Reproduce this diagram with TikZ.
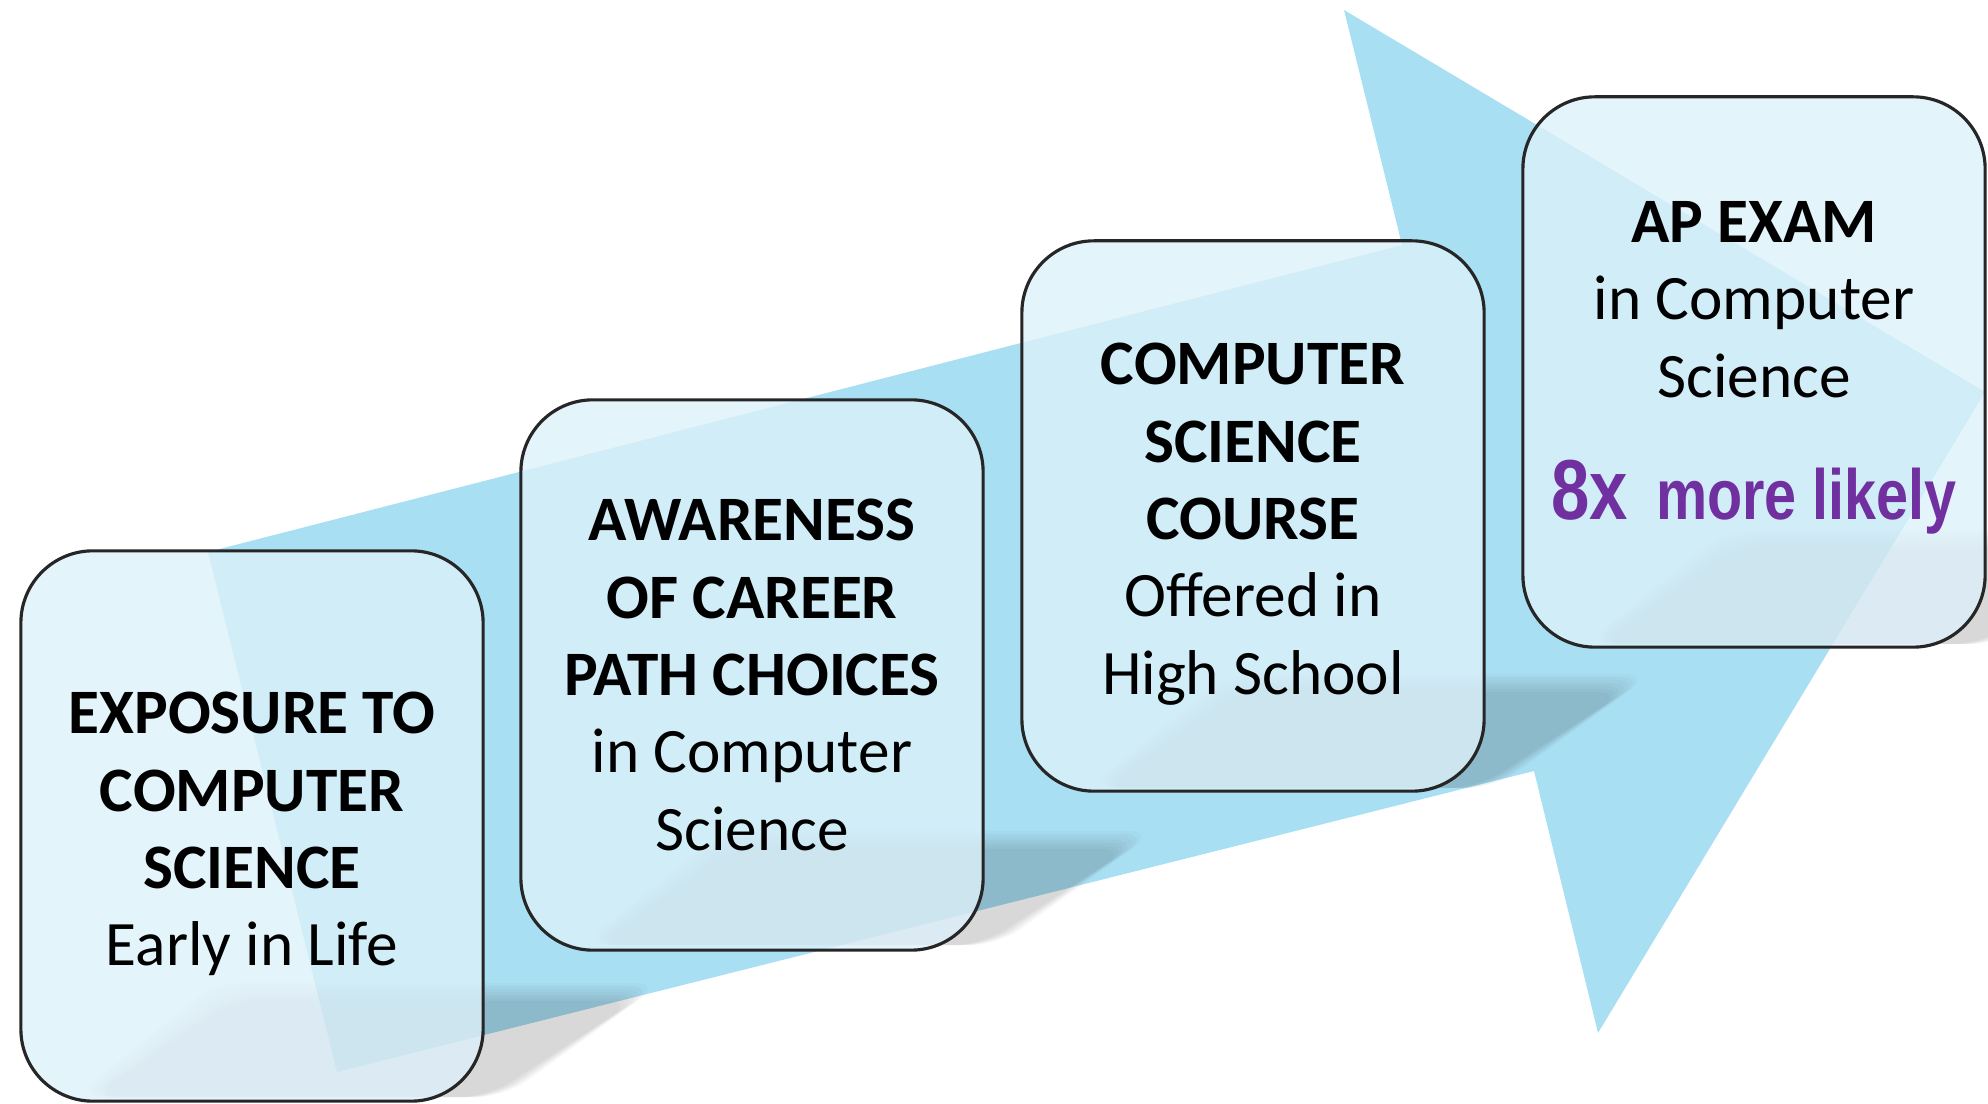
\documentclass[tikz,border=0pt]{standalone}
\usepackage{fontspec}
\usepackage{graphicx}
\setmainfont{Carlito}
\newfontfamily\likelyfont{Liberation Sans}
\usetikzlibrary{calc}
\definecolor{arrowblue}{RGB}{169,223,243}
\definecolor{boxblue}{RGB}{221,241,250}
\definecolor{likelypurple}{RGB}{112,48,160}
\tikzset{
	stage/.style={draw=black!85, line width=0.9pt, fill=boxblue, fill opacity=0.79, text opacity=1,
		rounded corners=0.72cm, minimum width=4.62cm, minimum height=5.5cm, align=center,
		font=\fontsize{18}{22}\selectfont},
}
\def\boxshadow(#1,#2,#3){\foreach \s in {0,3,...,18} {\fill[black, opacity=0.024, rounded corners=8pt] (#1+200+\s, #3-118+\s) -- (#2+172-1.5*\s, #3-118+\s) -- (#2+15-\s, #3-4) -- (#1+60+\s, #3-4) -- cycle;}}
\def\pushdown{\rule{0pt}{0.58cm}}

\begin{document}
\begin{tikzpicture}[x=0.01cm, y=-0.01cm]
			%%%%% START %%%%%
			\useasboundingbox (0, 0) rectangle (1988, 1104);
			
			% the big arrow behind
			\fill[arrowblue] (208, 552) -- (1402, 245) -- (1344, 10) -- (1985, 392) -- (1598, 1033) -- (1534, 771) -- (337, 1072) -- cycle;
			
			% shadows of the boxes
			\boxshadow(15,490,1101);
			\boxshadow(521,984,949);
			\boxshadow(1027,1480,792);
			\boxshadow(1524,1984,648);
			
			% the four steps
			\node[stage] (early) at (252, 826) {\pushdown\textbf{EXPOSURE TO}\\ \textbf{COMPUTER}\\ \textbf{SCIENCE}\\ Early in Life};
			\node[stage] (career) at (752, 675) {\textbf{AWARENESS}\\ \textbf{OF CAREER}\\ \textbf{PATH CHOICES}\\ in Computer\\ Science};
			\node[stage] (course) at (1253, 516) {\pushdown\textbf{COMPUTER}\\ \textbf{SCIENCE}\\ \textbf{COURSE}\\ Offered in\\ High School};
			\node[stage] (apexam) at (1754, 372) {\textbf{AP EXAM}\\ in Computer\\ Science\\[0.45cm] \color{likelypurple}\scalebox{0.81}[1]{\likelyfont\bfseries\fontsize{24.2}{26}\selectfont 8x\hspace{0.35cm}\fontsize{20.2}{24}\selectfont more likely\rule[-0.23cm]{0pt}{0pt}}};
			
			%%%%% END %%%%%
\end{tikzpicture}
\end{document}
